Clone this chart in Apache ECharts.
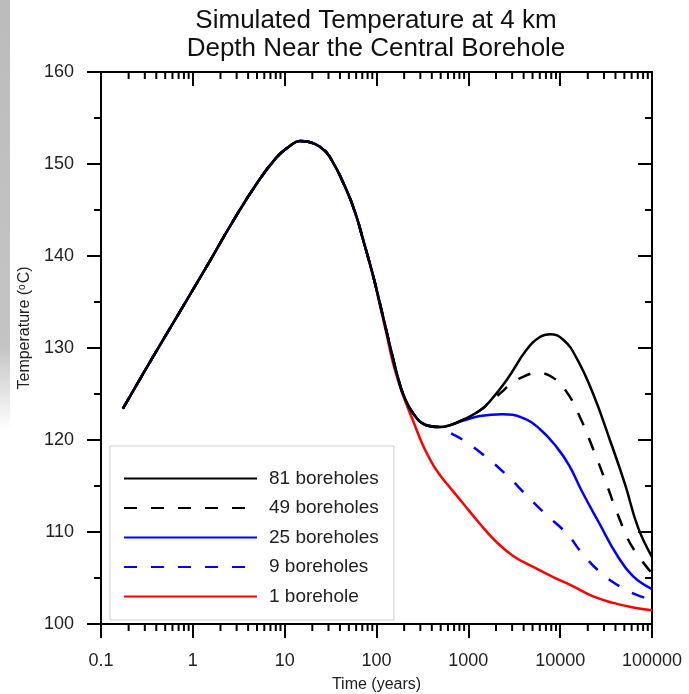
<!DOCTYPE html>
<html>
<head>
<meta charset="utf-8">
<script src="https://cdn.jsdelivr.net/npm/echarts@6/dist/echarts.min.js"></script>
<style>html,body{margin:0;padding:0;background:#fff;}#c{width:689px;height:694px;}</style>
</head>
<body>
<div id="c"></div>
<script>
// ---- data (time in years, temperature in °C) ----
const riseTime = [0.173, 0.338, 0.718, 1.52, 2.74, 4.91, 8.11, 11.2, 14.6, 18.5, 24, 30.9, 47, 60.4, 71.3, 91.6];
const riseTemp = [123.4, 128.4, 133.9, 139.4, 143.8, 147.8, 150.7, 151.9, 152.5, 152.4, 151.9, 150.8, 147.2, 144.3, 141.8, 137.9];

const dropTime = [108, 128, 151, 170, 195, 250, 350, 489];
const dropTemp = [135.0, 131.9, 128.9, 126.9, 125.0, 122.9, 121.6, 121.4];

const t81 = [630, 877, 1334, 1714, 2606, 4302, 6012, 7727, 10800, 15100, 22900, 34800, 50800, 70400, 100000];
const v81 = [121.6, 122.2, 123.2, 124.2, 126.5, 129.8, 131.2, 131.5, 130.9, 128.9, 125.0, 120.0, 115.2, 110.5, 107.3];

const t49 = [630, 877, 1334, 1714, 2300, 2833, 4000, 5600, 8300, 11800, 16400, 22900, 32000, 44000, 60000, 100000];
const v49 = [121.6, 122.2, 123.2, 124.1, 125.2, 126.0, 126.9, 127.3, 126.8, 125.2, 122.5, 119.0, 115.2, 111.5, 108.5, 105.5];

const t25 = [630, 877, 1334, 2340, 3900, 6000, 9200, 12600, 17300, 26800, 41500, 62000, 100000];
const v25 = [121.6, 122.1, 122.6, 122.8, 122.4, 121.2, 119.2, 117.2, 114.4, 110.9, 107.5, 105.2, 103.8];

const t9 = [630, 877, 1580, 2600, 4300, 7000, 11900, 17300, 29000, 48000, 67000, 100000];
const v9 = [120.8, 120.0, 118.1, 116.2, 114.0, 111.9, 109.8, 107.7, 105.4, 103.9, 103.2, 102.6];

const t1 = [108, 128, 151, 179, 200, 250, 321, 413, 490, 578, 878, 1334, 2030, 3077, 5085, 8400, 13870, 22900, 37840, 62500, 100000];
const v1 = [134.8, 131.6, 128.4, 125.9, 124.5, 122.1, 119.4, 117.3, 116.2, 115.3, 113.1, 110.9, 108.9, 107.4, 106.2, 105.1, 104.1, 103.0, 102.3, 101.8, 101.5];

const seriesNames = ['81 boreholes', '49 boreholes', '25 boreholes', '9 boreholes', '1 borehole'];
const xTickLabels = [0.1, 1, 10, 100, 1000, 10000, 100000];
const yTicks = [100, 110, 120, 130, 140, 150, 160];

// ---- helpers ----
function pairs(ts, vs) { return ts.map((t, i) => [t, vs[i]]); }
const rise = pairs(riseTime, riseTemp);
const drop = pairs(dropTime, dropTemp);
const d81 = rise.concat(drop, pairs(t81, v81));
const d49 = rise.concat(drop, pairs(t49, v49));
const d25 = rise.concat(drop, pairs(t25, v25));
const d9 = rise.concat(drop, pairs(t9, v9));
const d1 = rise.concat(pairs(t1, v1));

// minor tick values of the log axis (2..9 within each decade)
const minorX = [];
for (let i = 0; i < xTickLabels.length - 1; i++) {
  for (let k = 2; k <= 9; k++) minorX.push(+(xTickLabels[i] * k).toPrecision(6));
}

const FONT = 'Liberation Sans, Arial, Helvetica, sans-serif';
const DASH = [13, 14];

function lineSeries(name, data, color, dashed) {
  return {
    name: name, type: 'line', data: data, symbol: 'none', smooth: 0.45,
    xAxisIndex: 0, yAxisIndex: 0,
    lineStyle: { color: color, width: 2.5, type: dashed ? DASH : 'solid' },
    itemStyle: { color: color },
    emphasis: { disabled: true }
  };
}

const chart = echarts.init(document.getElementById('c'), null, { renderer: 'canvas' });

const baseX = {
  type: 'log', logBase: 10, min: 0.1, max: 100000,
  splitLine: { show: false }
};
const baseY = {
  type: 'value', min: yTicks[0], max: yTicks[yTicks.length - 1], interval: 10,
  splitLine: { show: false }
};

chart.setOption({
  animation: false,
  backgroundColor: '#fff',
  title: {
    text: 'Simulated Temperature at 4 km\nDepth Near the Central Borehole',
    left: 376, top: 7, textAlign: 'center', padding: 0,
    textStyle: { fontFamily: FONT, fontSize: 26, fontWeight: 'normal', color: '#111', lineHeight: 28 }
  },
  graphic: [{
    type: 'rect', left: 0, top: 0, z: -10,
    shape: { width: 10, height: 694 },
    style: {
      fill: new echarts.graphic.LinearGradient(0, 0, 0, 1, [
        { offset: 0, color: '#bcbcbc' },
        { offset: 0.5, color: '#c4c4c4' },
        { offset: 0.62, color: '#ffffff' },
        { offset: 1, color: '#ffffff' }
      ])
    }
  }],
  grid: { left: 101, right: 37, top: 72, bottom: 70, containLabel: false, outerBoundsMode: 'none' },
  legend: {
    data: seriesNames,
    orient: 'vertical', left: 110, top: 446,
    itemWidth: 133, itemHeight: 18, itemGap: 10.5,
    padding: [23, 15, 14, 13],
    backgroundColor: '#fff', borderColor: '#cfcfcf', borderWidth: 1,
    itemStyle: { opacity: 0 },
    textStyle: { fontFamily: FONT, fontSize: 19, color: '#222', padding: [0, 0, 0, 7] },
    selectedMode: false
  },
  xAxis: [
    Object.assign({}, baseX, {
      position: 'bottom',
      name: 'Time (years)', nameLocation: 'middle', nameGap: 53,
      nameTextStyle: { fontFamily: FONT, fontSize: 16, color: '#222' },
      axisLine: { show: true, onZero: false, lineStyle: { color: '#000', width: 2 } },
      axisTick: { show: true, inside: false, length: 14, lineStyle: { color: '#000', width: 2 } },
      axisLabel: {
        show: true, margin: 28, fontFamily: FONT, fontSize: 18, color: '#222',
        formatter: function (v) { return String(+(+v).toPrecision(6)); }
      }
    }),
    Object.assign({}, baseX, {
      position: 'top',
      axisLine: { show: true, onZero: false, lineStyle: { color: '#000', width: 2 } },
      axisTick: { show: true, inside: true, length: 14, lineStyle: { color: '#000', width: 2 } },
      axisLabel: { show: false }
    })
  ],
  yAxis: [
    Object.assign({}, baseY, {
      position: 'left',
      name: '{a|Temperature (}{s|o}{a|C)}', nameLocation: 'middle', nameGap: 66, nameRotate: 90,
      nameTextStyle: {
        padding: [0, 0, 0, 40],
        rich: {
          a: { fontFamily: FONT, fontSize: 16, color: '#222' },
          s: { fontFamily: FONT, fontSize: 10, color: '#222', verticalAlign: 'top', padding: [0, 1, 6, 0] }
        }
      },
      axisLine: { show: true, onZero: false, lineStyle: { color: '#000', width: 2 } },
      axisTick: { show: true, inside: false, length: 14, lineStyle: { color: '#000', width: 2 } },
      minorTick: { show: true, splitNumber: 2, length: 7, lineStyle: { color: '#000', width: 2 } },
      axisLabel: { show: true, margin: 27, fontFamily: FONT, fontSize: 18, color: '#222' }
    }),
    Object.assign({}, baseY, {
      position: 'right',
      axisLine: { show: true, onZero: false, lineStyle: { color: '#000', width: 2 } },
      axisTick: { show: true, inside: true, length: 14, lineStyle: { color: '#000', width: 2 } },
      minorTick: { show: true, splitNumber: 2, length: 7, lineStyle: { color: '#000', width: 2 } },
      axisLabel: { show: false }
    })
  ],
  series: [
    lineSeries('1 borehole', d1, '#ff0000', false),
    lineSeries('9 boreholes', d9, '#0000ff', true),
    lineSeries('25 boreholes', d25, '#0000ff', false),
    lineSeries('49 boreholes', d49, '#000000', true),
    lineSeries('81 boreholes', d81, '#000000', false),
    {
      name: 'minorTicks', type: 'custom', xAxisIndex: 0, yAxisIndex: 0,
      clip: false, silent: true, z: 5,
      data: minorX.map(v => [v, yTicks[0]]),
      renderItem: function (params, api) {
        const v = api.value(0);
        const b = api.coord([v, yTicks[0]]);
        const t = api.coord([v, yTicks[yTicks.length - 1]]);
        const st = { stroke: '#000', lineWidth: 2 };
        return {
          type: 'group', children: [
            { type: 'line', shape: { x1: b[0], y1: b[1], x2: b[0], y2: b[1] + 7 }, style: st },
            { type: 'line', shape: { x1: t[0], y1: t[1], x2: t[0], y2: t[1] + 7 }, style: st }
          ]
        };
      }
    }
  ]
});
</script>
</body>
</html>
